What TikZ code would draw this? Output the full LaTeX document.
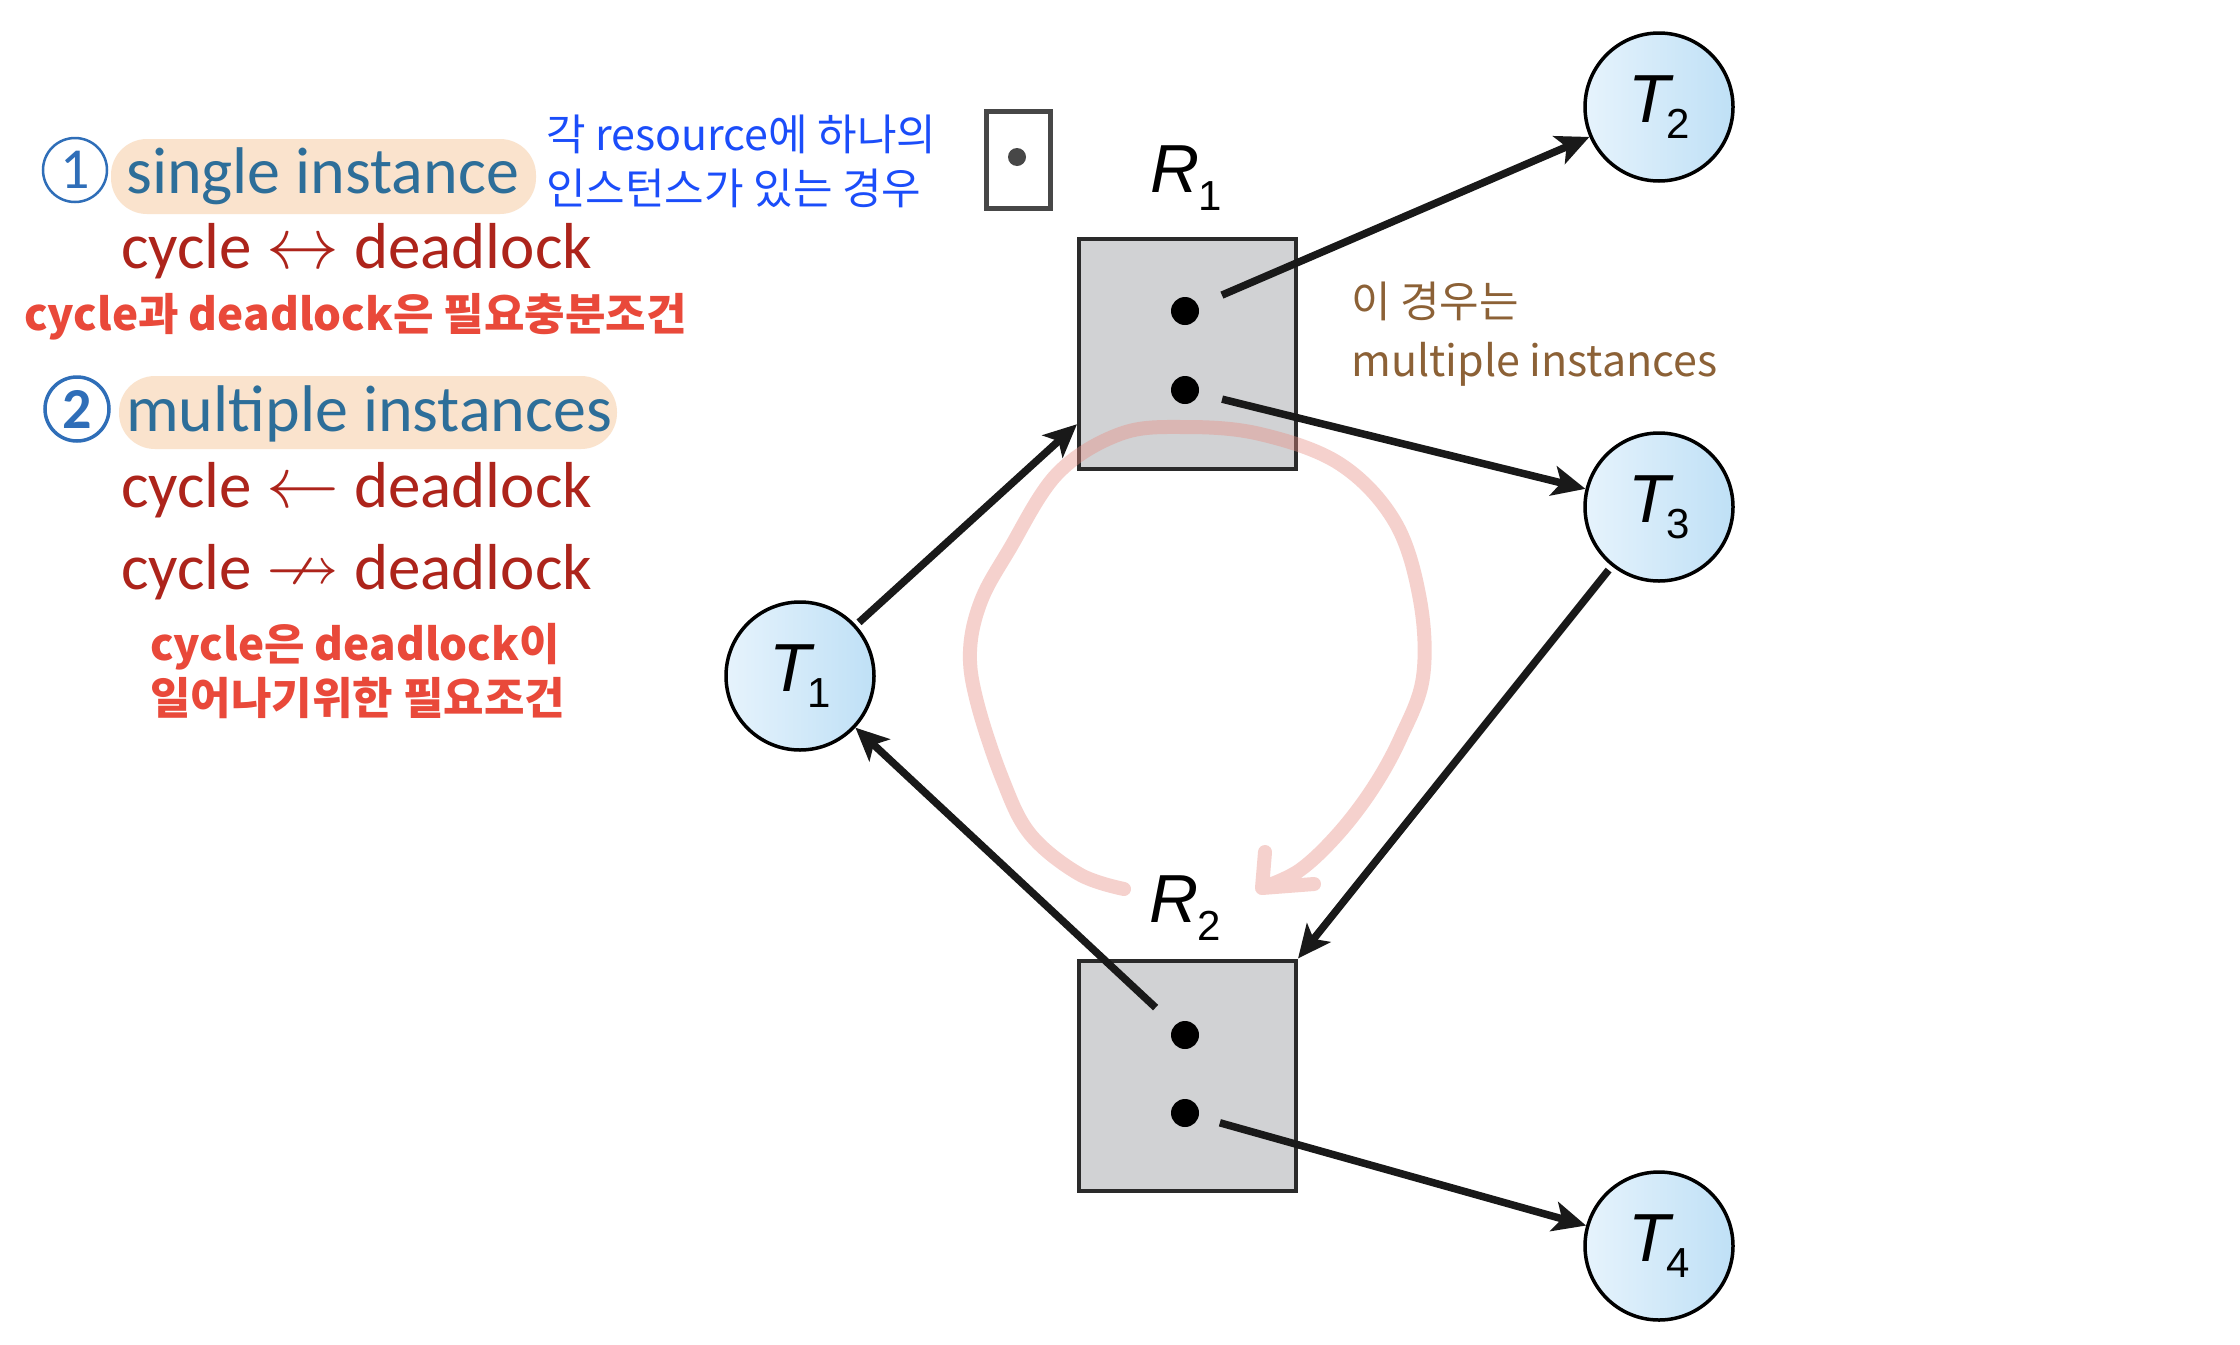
\documentclass[tikz,border=0pt]{standalone}
\usepackage{fix-cm}
\usepackage{amssymb}
\usepackage{graphicx}
\usepackage{fontspec}
\setmainfont{Carlito}
\newfontfamily\krfont{Noto Sans CJK KR}
\newfontfamily\labfont{Liberation Sans}
\usetikzlibrary{arrows.meta,calc}
\definecolor{cTeal}{HTML}{2D6E99}
\definecolor{cDark}{HTML}{AD241B}
\definecolor{cRed}{HTML}{E9493A}
\definecolor{cBlue}{HTML}{1B4DFA}
\definecolor{cBrown}{HTML}{8C6136}
\definecolor{cNum}{HTML}{2F6EB8}
\definecolor{peach}{HTML}{FAE3CD}
\definecolor{tA}{HTML}{E6F3FC}
\definecolor{tB}{HTML}{BFE0F6}
\definecolor{boxgray}{HTML}{D1D2D4}
\definecolor{boxline}{HTML}{2A2A2A}
\definecolor{pinkc}{RGB}{232,140,130}
\newcommand\Tlab[1]{{\itshape T}\kern-4pt\raisebox{-16pt}{\fontsize{42}{42}\selectfont #1}}
\newcommand\Rlab[1]{{\itshape R}\kern-1pt\raisebox{-18pt}{\fontsize{42}{42}\selectfont #1}}
\newcommand\bigarr[1]{\scalebox{1.12}{\(#1\)}}
\begin{document}
\begin{tikzpicture}[x=1pt,y=-1pt,
  tnode/.style={circle, draw=black, line width=3.5pt, minimum size=148pt, inner sep=0pt, left color=tA, right color=tB, font=\labfont\fontsize{68}{68}\selectfont},
  rbox/.style={rectangle, draw=boxline, line width=4pt, fill=boxgray, minimum width=217pt, minimum height=230pt, inner sep=0pt},
  dotn/.style={circle, fill=black, minimum size=28pt, inner sep=0pt},
  arr/.style={line width=7.5pt, draw=black!90, -{Stealth[length=33pt,width=30pt,inset=8pt]}},
  hlbox/.style={rectangle, rounded corners=36pt, fill=peach, inner sep=0pt},
  txt/.style={anchor=base west, inner sep=0pt},
  numc/.style={circle, draw=cNum, text=cNum, inner sep=0pt, minimum size=64pt, font=\fontsize{58}{58}\selectfont},
  rlab/.style={anchor=base west, inner sep=0pt, font=\labfont\fontsize{68}{68}\selectfont},
  pinkst/.style={line width=14pt, draw=pinkc, draw opacity=0.4, line cap=round, line join=round},
  bigtxt/.style={txt, font=\fontsize{66}{70}\selectfont},
  cyctxt/.style={txt, text=cDark, font=\fontsize{65}{70}\selectfont},
  krbold/.style={txt, text=cRed, font=\krfont\bfseries\fontsize{44}{50}\selectfont},
  krreg/.style={txt, font=\krfont\fontsize{43}{50}\selectfont},
]
\path[fill=white, use as bounding box] (0,0) rectangle (2240,1344);

% resources
\node[rbox] (R1) at (1187.5,354) {};
\node[rbox] (R2) at (1187.5,1075.5) {};
\node[dotn] (d11) at (1185,311) {};
\node[dotn] (d12) at (1185,390) {};
\node[dotn] (d21) at (1185,1035) {};
\node[dotn] (d22) at (1185,1113) {};
\node[rlab] (L1) at (1150,192) {\Rlab{1}};
\node[rlab] (L2) at (1149,922) {\Rlab{2}};

% threads
\node[tnode] (T1) at (800,676) {\Tlab{1}};
\node[tnode] (T2) at (1659,107) {\Tlab{2}};
\node[tnode] (T3) at (1659,507) {\Tlab{3}};
\node[tnode] (T4) at (1659,1246) {\Tlab{4}};

\coordinate (R1in) at ($(R1.south west)!0.2!(R1.north west)$);

% edges
\draw[arr, shorten <=26pt] (d11) -- (T2);
\draw[arr, shorten <=24pt] (d12) -- (T3);
\draw[arr, shorten <=26pt] (d21) -- (T1);
\draw[arr, shorten <=22pt] (d22) -- (T4);
\draw[arr, shorten <=4pt] (T1) -- (R1in);
\draw[arr, shorten <=5pt] (T3) -- (R2.north east);

% pink hand-drawn cycle
\draw[pinkst] plot[smooth, tension=0.6] coordinates {(1124,889) (1079,874) (1030,834) (1002,778) (977,702) (970,651) (981,601) (1009,550) (1057,474) (1120,434) (1184,427) (1260,434) (1340,464) (1395,522) (1420,600) (1423,677) (1401,737) (1373,788) (1338,834) (1300,870) (1264,887)}
  (1265,852) -- (1262,888) -- (1314,884);

% left annotations
\node[numc, line width=2.5pt] (n1) at (75,170) {1};
\node[hlbox, minimum width=425pt, minimum height=75pt] (h1) at (323.5,176.5) {};
\node[bigtxt, text=cTeal] (s1) at (126,193) {single instance};
\node[cyctxt] (c1) at (121,268) {cycle \bigarr{\leftrightarrow} deadlock};
\node[krbold] (k1) at (24,330) {cycle과 deadlock은 필요충분조건};

\node[numc, line width=3.5pt, font=\bfseries\fontsize{58}{58}\selectfont] (n2) at (77,409) {2};
\node[hlbox, minimum width=498pt, minimum height=73pt] (h2) at (368,412.5) {};
\node[bigtxt, text=cTeal] (s2) at (126,431) {multiple instances};
\node[cyctxt] (c2) at (121,507) {cycle \bigarr{\leftarrow} deadlock};
\node[cyctxt] (c3) at (121,589) {cycle \bigarr{\nrightarrow} deadlock};
\node[krbold] (k2) at (150,660) {cycle은 deadlock이};
\node[krbold] (k3) at (150,714) {일어나기위한 필요조건};

% blue note and single-instance box
\node[krreg, text=cBlue] (b1) at (546,150) {각 resource에 하나의};
\node[krreg, text=cBlue] (b2) at (546,204) {인스턴스가 있는 경우};
\node[draw=black!72, line width=5pt, fill=white, minimum width=64pt, minimum height=97pt, inner sep=0pt] (sb) at (1018.5,160) {};
\node[dotn, minimum size=18pt, fill=black!72] (sbd) at (1017,157) {};

% brown note
\node[krreg, text=cBrown] (w1) at (1351,317) {이 경우는};
\node[krreg, text=cBrown] (w2) at (1351,376) {multiple instances};
\end{tikzpicture}
\end{document}
